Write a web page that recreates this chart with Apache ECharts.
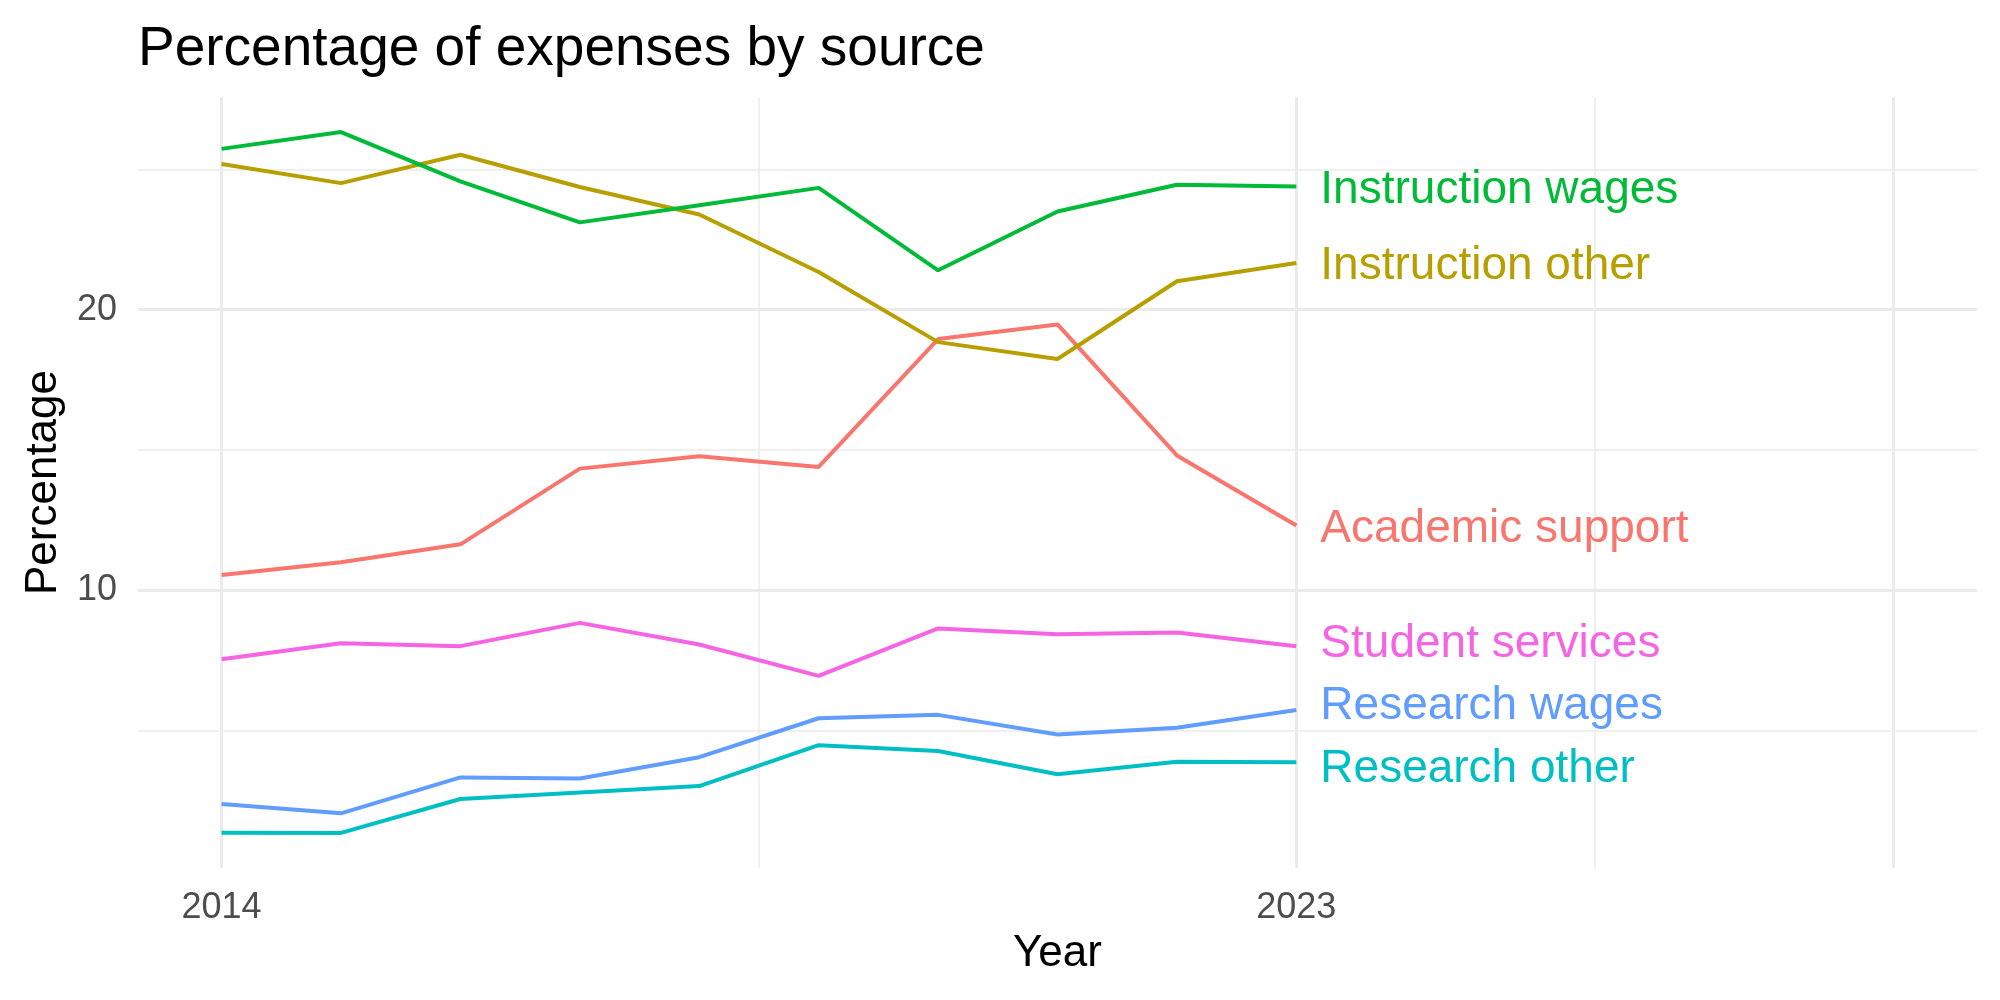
<!DOCTYPE html>
<html>
<head>
<meta charset="utf-8">
<title>Percentage of expenses by source</title>
<script src="https://cdn.jsdelivr.net/npm/echarts@6/dist/echarts.min.js"></script>
<style>
  html, body { margin: 0; padding: 0; background: #fff; }
  #main { width: 2000px; height: 1000px; }
</style>
</head>
<body>
<div id="main"></div>
<script>
// line chart with end labels, ggplot minimal look
var years = [2014, 2015, 2016, 2017, 2018, 2019, 2020, 2021, 2022, 2023];

var academicSupport  = [10.54, 10.99, 11.63, 14.33, 14.77, 14.39, 18.95, 19.47, 14.80, 12.30];
var instructionOther = [25.19, 24.51, 25.52, 24.37, 23.39, 21.34, 18.84, 18.24, 21.01, 21.66];
var instructionWages = [25.73, 26.33, 24.57, 23.11, 23.72, 24.34, 21.40, 23.50, 24.45, 24.39];
var researchOther    = [1.35, 1.34, 2.55, 2.78, 3.01, 4.47, 4.26, 3.43, 3.88, 3.86];
var researchWages    = [2.37, 2.04, 3.32, 3.28, 4.04, 5.43, 5.55, 4.85, 5.09, 5.72];
var studentServices  = [7.53, 8.10, 8.00, 8.83, 8.06, 6.94, 8.63, 8.42, 8.49, 8.00];

var xMajorTicks = [2014, 2023, 2028];
var xMinorTicks = [2018.5, 2025.5];
var xTickLabels = [2014, 2023];
var yMajorTicks = [10, 20];
var yMinorTicks = [5, 15, 25];

var FONT = '"Liberation Sans", Arial, Helvetica, sans-serif';
var GRID_COLOR = '#EBEBEB';

var chart = echarts.init(document.getElementById('main'), null, { renderer: 'canvas' });

function pairs(vals) {
  var out = [];
  for (var i = 0; i < years.length; i++) out.push([years[i], vals[i]]);
  return out;
}

function lineSeries(name, vals, color, dy) {
  return {
    name: name,
    type: 'line',
    data: pairs(vals),
    symbol: 'none',
    lineStyle: { color: color, width: 4 },
    itemStyle: { color: color },
    emphasis: { disabled: true },
    endLabel: {
      show: true,
      formatter: '{a}',
      color: color,
      fontFamily: FONT,
      fontSize: 46,
      distance: 24,
      offset: [0, dy]
    }
  };
}

var hiddenBits = {
  axisLine: { show: false },
  axisLabel: { show: false }
};

option = {
  animation: false,
  backgroundColor: '#ffffff',
  title: {
    text: 'Percentage of expenses by source',
    left: 138,
    top: 22,
    padding: 0,
    textStyle: { fontFamily: FONT, fontSize: 55, fontWeight: 'normal', color: '#000000' }
  },
  grid: {
    left: 138,
    right: 23,
    top: 97,
    bottom: 132,
    containLabel: false,
    outerBoundsMode: 'none'
  },
  xAxis: [
    {
      type: 'value',
      min: 2013.3,
      max: 2028.7,
      position: 'bottom',
      axisLine: { show: false },
      axisTick: { show: false, customValues: xMajorTicks },
      axisLabel: {
        customValues: xTickLabels,
        formatter: function (v) { return String(v); },
        fontFamily: FONT,
        fontSize: 36,
        color: '#4D4D4D',
        margin: 22
      },
      splitLine: { show: true, lineStyle: { color: GRID_COLOR, width: 3 } },
      name: 'Year',
      nameLocation: 'middle',
      nameGap: 86,
      nameTextStyle: { fontFamily: FONT, fontSize: 44, color: '#000000', verticalAlign: 'middle' }
    },
    {
      type: 'value',
      min: 2013.3,
      max: 2028.7,
      position: 'top',
      axisLine: hiddenBits.axisLine,
      axisLabel: hiddenBits.axisLabel,
      axisTick: { show: false, customValues: xMinorTicks },
      splitLine: { show: true, lineStyle: { color: GRID_COLOR, width: 1.5 } }
    }
  ],
  yAxis: [
    {
      type: 'value',
      min: 0.09,
      max: 27.58,
      position: 'left',
      axisLine: { show: false },
      axisTick: { show: false, customValues: yMajorTicks },
      axisLabel: {
        customValues: yMajorTicks,
        fontFamily: FONT,
        fontSize: 36,
        color: '#4D4D4D',
        margin: 21
      },
      splitLine: { show: true, lineStyle: { color: GRID_COLOR, width: 3 } },
      name: 'Percentage',
      nameLocation: 'middle',
      nameRotate: 90,
      nameGap: 93,
      nameTextStyle: { fontFamily: FONT, fontSize: 44, color: '#000000', verticalAlign: 'middle' }
    },
    {
      type: 'value',
      min: 0.09,
      max: 27.58,
      position: 'right',
      axisLine: hiddenBits.axisLine,
      axisLabel: hiddenBits.axisLabel,
      axisTick: { show: false, customValues: yMinorTicks },
      splitLine: { show: true, lineStyle: { color: GRID_COLOR, width: 1.5 } }
    }
  ],
  series: [
    lineSeries('Academic support', academicSupport, '#F8766D', 3.5),
    lineSeries('Instruction other', instructionOther, '#B79F00', 3.5),
    lineSeries('Instruction wages', instructionWages, '#00BA38', 3.5),
    lineSeries('Research other', researchOther, '#00BFC4', 7.5),
    lineSeries('Research wages', researchWages, '#619CFF', -3.5),
    lineSeries('Student services', studentServices, '#F564E3', -2)
  ]
};

chart.setOption(option);
</script>
</body>
</html>
